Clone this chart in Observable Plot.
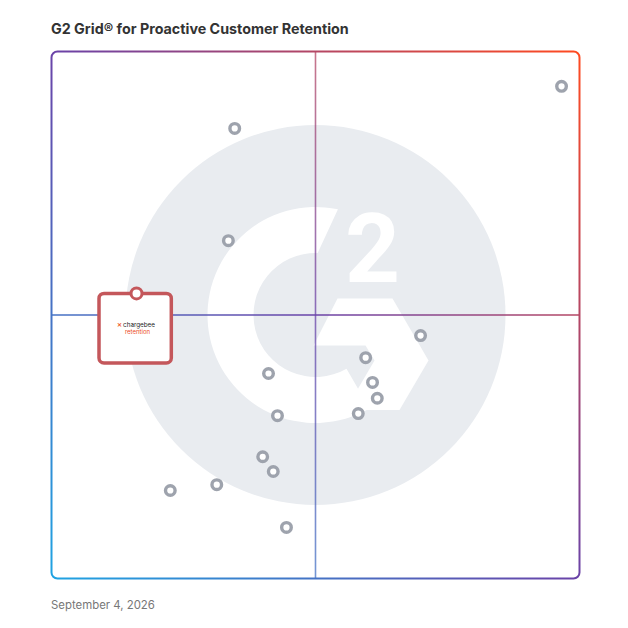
<!DOCTYPE html>
<html><head><meta charset="utf-8">
<script src="https://cdn.jsdelivr.net/npm/d3@7"></script>
<script src="https://cdn.jsdelivr.net/npm/@observablehq/plot@0.6"></script>
<style>
body{margin:0;background:#fff;width:628px;height:628px;position:relative;overflow:hidden;font-family:Inter,"Open Sans",sans-serif}
#title{position:absolute;left:51px;top:19px;font-size:14.3px;font-weight:700;color:#333;line-height:20px;white-space:nowrap}
#chart{position:absolute;left:0;top:44px}
#date{position:absolute;left:51px;top:597px;font-size:11.4px;color:#777;line-height:16px;white-space:nowrap}
</style></head><body>
<div id="title"></div><div id="chart"></div><div id="date"></div>
<script>
const titleText = "G2 Grid® for Proactive Customer Retention";
const dateText = "September 4, 2026";
// vendor positions (0–100 on both axes)
const vendorX = [96.6, 34.7, 33.5, 69.9, 59.5, 41.1, 60.8, 61.7, 42.8, 58.1, 40.0, 42.0, 31.3, 22.5, 44.5];
const vendorY = [93.4, 85.4, 64.1, 46.1, 41.9, 38.9, 37.2, 34.2, 30.9, 31.3, 23.1, 20.3, 17.8, 16.7, 9.7];
// featured product
const featuredName = ["chargebee"];
const featuredSub = ["retention"];
const featuredX = [16.1];
const featuredY = [54.1];
const split = [50];

const vendors = vendorX.map((x, i) => ({x, y: vendorY[i]}));
const featured = featuredName.map((n, i) => ({name: n, sub: featuredSub[i], x: featuredX[i], y: featuredY[i]}));
const center = [{x: split[0], y: split[0]}];

// custom symbols (drawn relative to the point, in pixels)
const boxSymbol = {draw(ctx) {
  const x0 = -37.5, x1 = 34.8, y0 = 0, y1 = 69.5, r = 5;
  ctx.moveTo(x0 + r, y0); ctx.lineTo(x1 - r, y0); ctx.arcTo(x1, y0, x1, y0 + r, r);
  ctx.lineTo(x1, y1 - r); ctx.arcTo(x1, y1, x1 - r, y1, r);
  ctx.lineTo(x0 + r, y1); ctx.arcTo(x0, y1, x0, y1 - r, r);
  ctx.lineTo(x0, y0 + r); ctx.arcTo(x0, y0, x0 + r, y0, r); ctx.closePath();
}};
const deg = Math.PI / 180;
const ringSymbol = {draw(ctx) {
  const R = 108, r = 62, a0 = -78 * deg, a1 = -300 * deg, b0 = -88 * deg;
  ctx.moveTo(R * Math.cos(a0), R * Math.sin(a0));
  ctx.arc(0, 0, R, a0, a1, true);
  ctx.lineTo(r * Math.cos(a1), r * Math.sin(a1));
  ctx.arc(0, 0, r, a1, b0, false);
  ctx.closePath();
}};
const chevronSymbol = {draw(ctx) {
  ctx.moveTo(22, -16.5); ctx.lineTo(77, -16.5); ctx.lineTo(113, 45.5);
  ctx.lineTo(84, 95); ctx.lineTo(30, 95); ctx.lineTo(59, 45.5);
  ctx.lineTo(50, 30.5); ctx.lineTo(-2, 30.5); ctx.closePath();
}};

const plot = Plot.plot({
  width: 628, height: 546,
  marginTop: 7, marginBottom: 12, marginLeft: 51, marginRight: 49,
  x: {domain: [0, 100], axis: null},
  y: {domain: [0, 100], axis: null},
  marks: [
    Plot.dot(center, {x: "x", y: "y", r: 190, fill: "#e9ecf0", stroke: null}),
    Plot.dot(center, {x: "x", y: "y", symbol: ringSymbol, fill: "white", stroke: null}),
    Plot.dot(center, {x: "x", y: "y", symbol: chevronSymbol, fill: "white", stroke: null}),
    Plot.text(center, {x: "x", y: "y", text: () => "2", dx: 57, dy: -64, fontSize: 96, fontWeight: 700, fill: "white", fontFamily: "Roboto"}),
    Plot.ruleX(split, {stroke: "url(#g2grad)", strokeWidth: 1.6, strokeOpacity: 0.75}),
    Plot.ruleY(split, {stroke: "url(#g2grad)", strokeWidth: 1.6}),
    Plot.frame({stroke: "url(#g2grad)", strokeWidth: 2, rx: 6}),
    Plot.dot(vendors, {x: "x", y: "y", r: 4.8, fill: "white", stroke: "#9ea3ad", strokeWidth: 3.4}),
    Plot.dot(featured, {x: "x", y: "y", symbol: boxSymbol, fill: "white", stroke: "#c4575b", strokeWidth: 3.5}),
    Plot.dot(featured, {x: "x", y: "y", r: 5.5, fill: "white", stroke: "#c4575b", strokeWidth: 3}),
    Plot.text(featured, {x: "x", y: "y", text: () => "✕", dx: -17.5, dy: 31.5, fontSize: 5.5, fontWeight: 700, fill: "#f05a28"}),
    Plot.text(featured, {x: "x", y: "y", text: "name", dx: 2.5, dy: 31.5, fontSize: 6.3, fill: "#222", fontFamily: "Inter"}),
    Plot.text(featured, {x: "x", y: "y", text: "sub", dx: 1, dy: 39, fontSize: 6, fill: "#ec4a1e", fontFamily: "Inter"})
  ]
});

const defs = d3.select(plot).insert("defs", ":first-child");
const lg = defs.append("linearGradient").attr("id", "g2grad").attr("gradientUnits", "userSpaceOnUse")
  .attr("x1", 51).attr("y1", 534).attr("x2", 579).attr("y2", 7);
lg.append("stop").attr("offset", 0).attr("stop-color", "#1fa3e2");
lg.append("stop").attr("offset", 0.5).attr("stop-color", "#6a43a8");
lg.append("stop").attr("offset", 1).attr("stop-color", "#ff4a20");

document.getElementById("chart").append(plot);
document.getElementById("title").textContent = titleText;
document.getElementById("date").textContent = dateText;
</script>
</body></html>
